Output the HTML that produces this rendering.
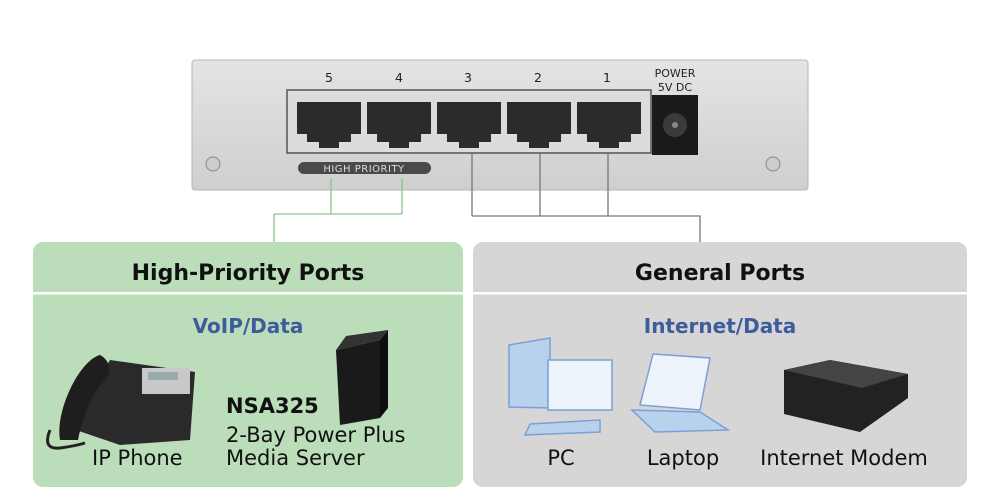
<!DOCTYPE html>
<html><head><meta charset="utf-8"><style>
html,body{margin:0;padding:0;background:#fff;width:1000px;height:488px;overflow:hidden;font-family:"DejaVu Sans","Liberation Sans",sans-serif}
</style></head><body>
<svg width="1000" height="488" viewBox="0 0 1000 488" xmlns="http://www.w3.org/2000/svg" font-family="DejaVu Sans, Liberation Sans, sans-serif">
<defs>
<linearGradient id="sw" x1="0" y1="0" x2="0" y2="1"><stop offset="0" stop-color="#e4e4e4"/><stop offset="1" stop-color="#cfcfcf"/></linearGradient>
</defs>
<rect x="192" y="60" width="616" height="130" rx="3" fill="url(#sw)" stroke="#b5b5b5"/>
<rect x="287" y="90" width="364" height="63" fill="#dcdcdc" stroke="#555" stroke-width="1.5"/>
<g font-size="12.5" fill="#222" text-anchor="middle">
<text x="329" y="82">5</text><text x="399" y="82">4</text><text x="468" y="82">3</text><text x="538" y="82">2</text><text x="607" y="82">1</text>
<text x="675" y="77" font-size="11">POWER</text><text x="675" y="91" font-size="11">5V DC</text>
</g>
<g fill="#2b2b2b">
<path d="M297 102h64v32h-10v8h-12v6h-20v-6h-12v-8h-10z"/>
<path d="M367 102h64v32h-10v8h-12v6h-20v-6h-12v-8h-10z"/>
<path d="M437 102h64v32h-10v8h-12v6h-20v-6h-12v-8h-10z"/>
<path d="M507 102h64v32h-10v8h-12v6h-20v-6h-12v-8h-10z"/>
<path d="M577 102h64v32h-10v8h-12v6h-20v-6h-12v-8h-10z"/>
</g>
<rect x="652" y="95" width="46" height="60" fill="#1a1a1a"/>
<circle cx="675" cy="125" r="12" fill="#3a3a3a"/><circle cx="675" cy="125" r="3" fill="#888"/>
<rect x="298" y="162" width="133" height="12" rx="6" fill="#4a4a4a"/>
<text x="364" y="172" font-size="10" fill="#ddd" text-anchor="middle" letter-spacing="0.5">HIGH PRIORITY</text>
<circle cx="213" cy="164" r="7" fill="#ccc" stroke="#888"/><circle cx="773" cy="164" r="7" fill="#ccc" stroke="#888"/>
<g fill="none" stroke="#8cc48c" stroke-width="1.3">
<path d="M331 178V214M402 178V214M274 214H402M274 214V242"/>
</g>
<g fill="none" stroke="#777" stroke-width="1.3">
<path d="M472 152V216M540 152V216M608 152V216M472 216H700V242"/>
</g>
<rect x="33" y="242" width="430" height="245" rx="10" fill="#bcddb9"/>
<rect x="473" y="242" width="494" height="245" rx="10" fill="#d7d5d5"/>
<rect x="33" y="292" width="430" height="2.5" fill="#fff"/>
<rect x="473" y="292" width="494" height="2.5" fill="#fff"/>
<g font-weight="bold" font-size="22" text-anchor="middle" fill="#111">
<text x="248" y="280">High-Priority Ports</text>
<text x="720" y="280">General Ports</text>
</g>
<g font-weight="bold" font-size="20" text-anchor="middle" fill="#3d5c9c">
<text x="248" y="333">VoIP/Data</text>
<text x="720" y="333">Internet/Data</text>
</g>
<g>
<path d="M70 428 L110 360 L195 372 L190 440 L120 445 Z" fill="#2a2a2a"/>
<path d="M60 440 C55 410 80 360 100 355 C110 360 112 372 105 380 C90 395 82 420 78 440 Z" fill="#1e1e1e"/>
<rect x="142" y="368" width="48" height="26" fill="#c8c8c8"/>
<rect x="148" y="372" width="30" height="8" fill="#9aa"/>
<path d="M50 430 q-8 20 10 18 q15 -2 25 -5" stroke="#222" stroke-width="3" fill="none"/>
</g>
<path d="M336 350 L380 340 L380 418 L340 425 Z" fill="#1a1a1a"/>
<path d="M336 350 L346 336 L388 330 L380 340 Z" fill="#333"/>
<path d="M380 340 L388 330 L388 408 L380 418 Z" fill="#0e0e0e"/>
<g fill="#111" font-size="21">
<text x="226" y="413" font-weight="bold">NSA325</text>
<text x="226" y="442">2-Bay Power Plus</text>
<text x="226" y="465">Media Server</text>
<text x="92" y="465">IP Phone</text>
</g>
<g fill="#b8d2ee" stroke="#7aa0d4" stroke-width="1.5">
<path d="M509 345 L550 338 L550 408 L509 407 Z"/>
<rect x="548" y="360" width="64" height="50" fill="#eef4fb"/>
<path d="M530 424 L600 420 L600 432 L525 435 Z"/>
<path d="M653 354 L710 358 L700 410 L640 405 Z" fill="#eef4fb"/>
<path d="M632 410 L700 412 L728 430 L655 432 Z"/>
</g>
<path d="M784 370 L830 360 L908 374 L908 398 L860 432 L784 414 Z" fill="#222"/>
<path d="M784 370 L830 360 L908 374 L862 388 Z" fill="#444"/>
<g fill="#111" font-size="21" text-anchor="middle">
<text x="561" y="465">PC</text>
<text x="683" y="465">Laptop</text>
<text x="844" y="465">Internet Modem</text>
</g>
</svg>
</body></html>
